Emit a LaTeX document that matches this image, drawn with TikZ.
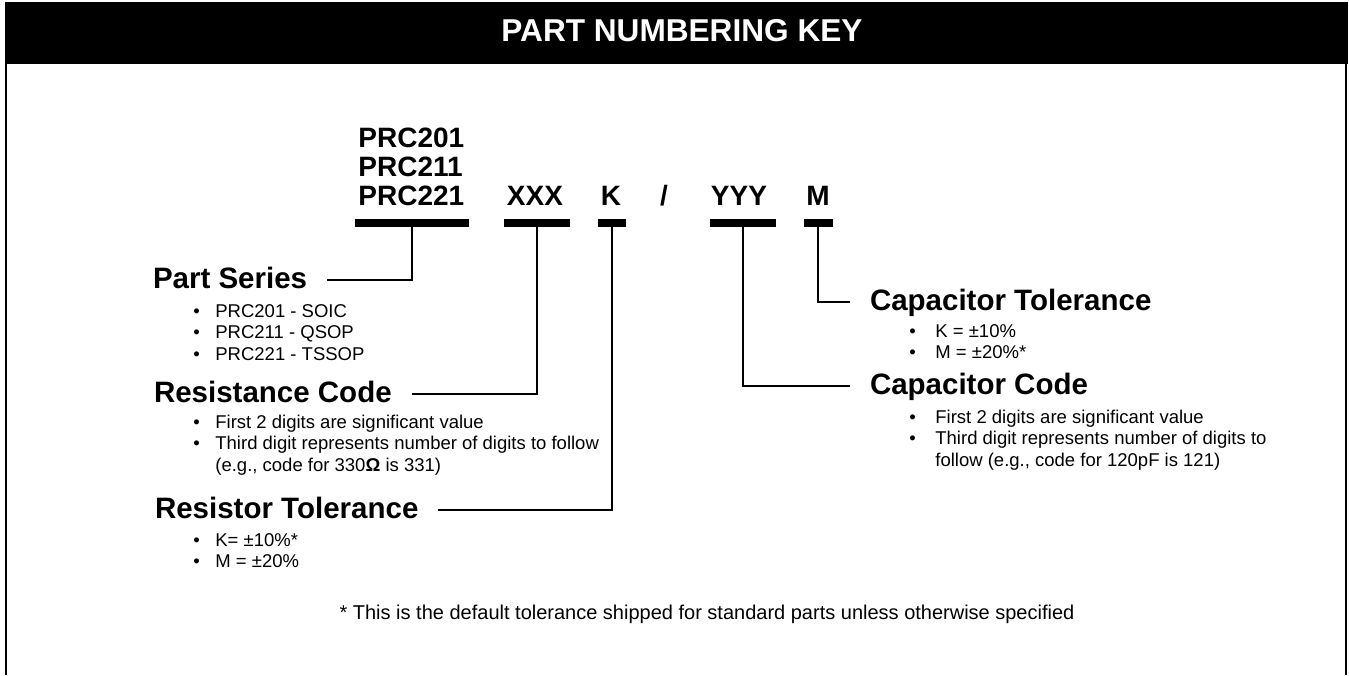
\documentclass[tikz,border=0pt]{standalone}
\usepackage{fontspec}
\setmainfont{Liberation Sans}
\usetikzlibrary{positioning}

\newcommand{\blist}[2]{\begin{tabular}[t]{@{}p{#1}@{}l@{}}#2\end{tabular}}

\tikzset{
  title/.style={font=\bfseries\fontsize{15.8}{17}\selectfont, text=white, anchor=base, inner sep=0pt},
  code/.style={font=\bfseries\fontsize{14}{14.5}\selectfont, anchor=base, inner sep=0pt},
  bar/.style={fill=black, inner sep=0pt, minimum height=4pt},
  heading/.style={font=\bfseries\fontsize{14.75}{16}\selectfont, anchor=base west,
    inner sep=0pt, outer xsep=10pt, text height=10.5pt, text depth=2.5pt},
  items/.style={font=\fontsize{9.25}{10.75}\selectfont, anchor=base west, inner sep=0pt},
  lead/.style={line width=1pt},
  frame/.style={line width=1pt}
}

\begin{document}
\begin{tikzpicture}[x=0.5pt,y=-0.5pt]
  \useasboundingbox (0,0) rectangle (1349,675);
  % header and frame
  \fill[black] (5,2) rectangle (1348,64);
  \node[title] (title) at (682,41) {PART NUMBERING KEY};
  \draw[frame] (6,64) -- (6,675);
  \draw[frame] (1346,64) -- (1346,675);

  % part number
  \node[code, anchor=base west] (p1) at (358,147) {PRC201};
  \node[code, anchor=base west] (p2) at (358,176) {PRC211};
  \node[code, anchor=base west] (p3) at (358,205) {PRC221};
  \node[code] (xxx) at (535,205) {XXX};
  \node[code] (k) at (611,205) {K};
  \node[code] (slash) at (664,205) {/};
  \node[code] (yyy) at (739,205) {YYY};
  \node[code] (m) at (818,205) {M};

  \node[bar, minimum width=57pt] (bPS) at (412,223) {};
  \node[bar, minimum width=33pt] (bRC) at (537,223) {};
  \node[bar, minimum width=14pt] (bRT) at (612,223) {};
  \node[bar, minimum width=33pt] (bCC) at (743,223) {};
  \node[bar, minimum width=14.5pt] (bCT) at (818,223) {};

  % left side
  \node[heading] (ps) at (133,288) {Part Series};
  \node[items] (psl) at (193,317) {\blist{11pt}{%
    \textbullet & PRC201 - SOIC\\
    \textbullet & PRC211 - QSOP\\
    \textbullet & PRC221 - TSSOP}};

  \node[heading] (rc) at (134,402) {Resistance Code};
  \node[items] (rcl) at (193,428) {\blist{11pt}{%
    \textbullet & First 2 digits are significant value\\
    \textbullet & Third digit represents number of digits to follow\\
    & (e.g., code for 330{\bfseries Ω} is 331)}};

  \node[heading] (rt) at (135,518) {Resistor Tolerance};
  \node[items] (rtl) at (193,546) {\blist{11pt}{%
    \textbullet & K= ±10\%*\\
    \textbullet & M = ±20\%}};

  % right side
  \node[heading] (ct) at (850,310) {Capacitor Tolerance};
  \node[items] (ctl) at (909,337) {\blist{13pt}{%
    \textbullet & K = ±10\%\\
    \textbullet & M = ±20\%*}};

  \node[heading] (cc) at (850,394) {Capacitor Code};
  \node[items] (ccl) at (909,423) {\blist{13pt}{%
    \textbullet & First 2 digits are significant value\\
    \textbullet & Third digit represents number of digits to\\
    & follow (e.g., code for 120pF is 121)}};

  % leaders
  \draw[lead] (bPS.south) |- (ps.east);
  \draw[lead] (bRC.south) |- (rc.east);
  \draw[lead] (bRT.south) |- (rt.east);
  \draw[lead] (bCC.south) |- (cc.west);
  \draw[lead] (bCT.south) |- (ct.west);

  \node[font=\fontsize{10}{12}\selectfont, anchor=base, inner sep=0pt] (note) at (707,619)
    {* This is the default tolerance shipped for standard parts unless otherwise specified};
\end{tikzpicture}
\end{document}
